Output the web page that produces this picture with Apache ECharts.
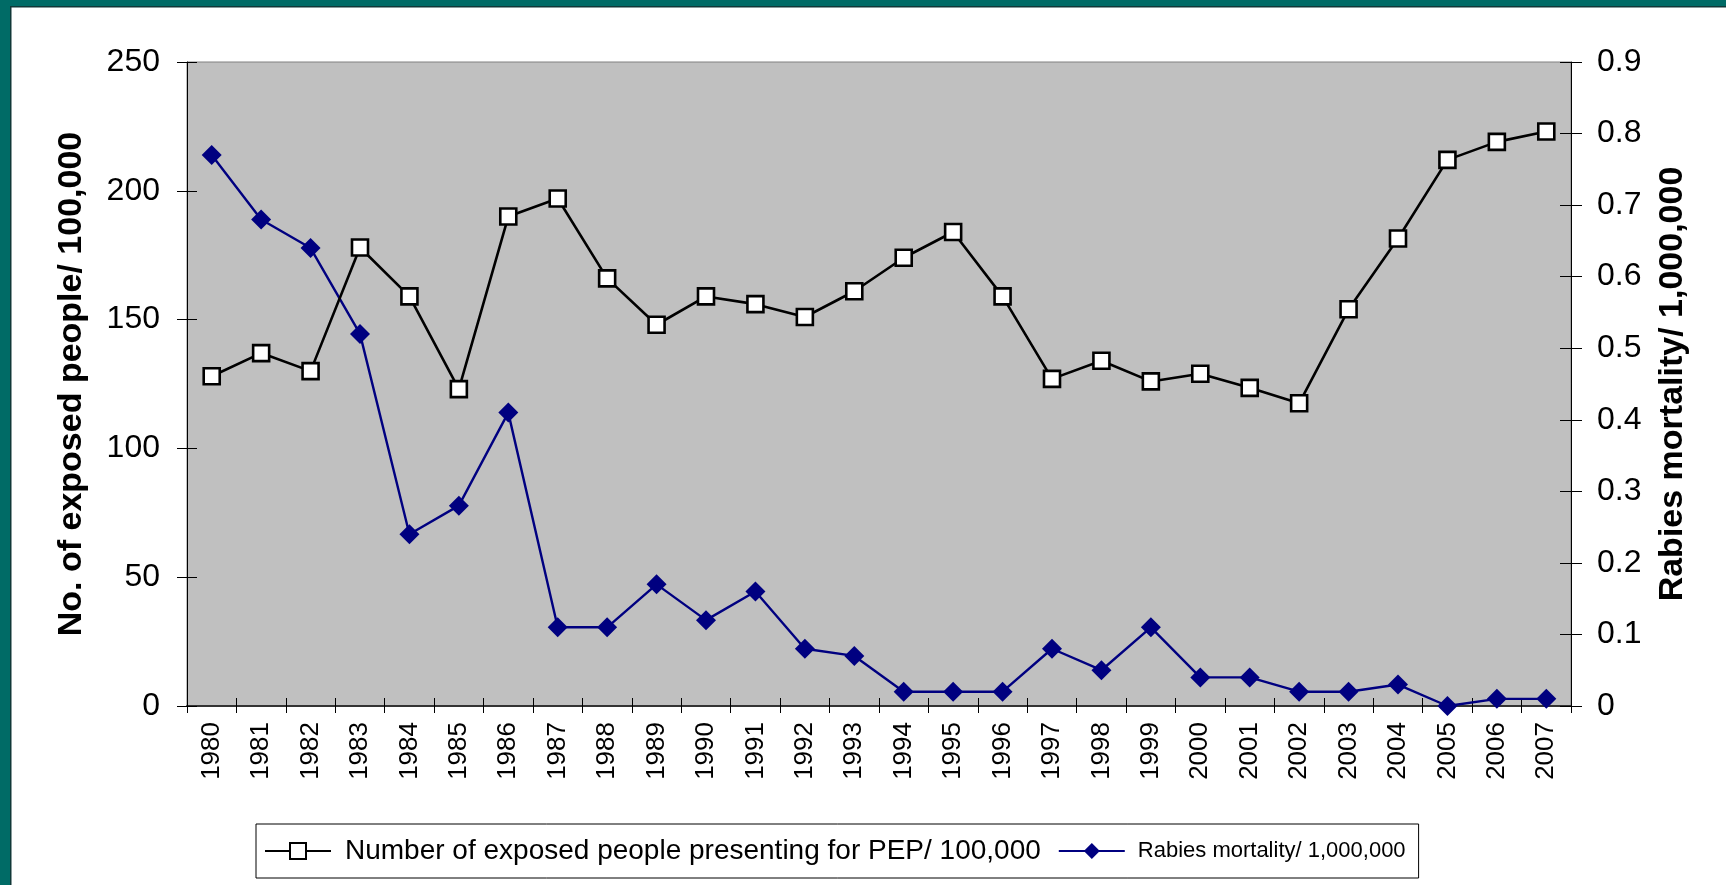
<!DOCTYPE html>
<html>
<head>
<meta charset="utf-8">
<script src="https://cdn.jsdelivr.net/npm/echarts@6/dist/echarts.min.js"></script>
<style>
  html, body { margin: 0; padding: 0; background: #fff; }
  #chart { width: 1726px; height: 885px; }
</style>
</head>
<body>
<div id="chart"></div>
<script>
// years on the x axis
var years = ['1980', '1981', '1982', '1983', '1984', '1985', '1986', '1987', '1988', '1989',
  '1990', '1991', '1992', '1993', '1994', '1995', '1996', '1997', '1998', '1999',
  '2000', '2001', '2002', '2003', '2004', '2005', '2006', '2007'];
// exposed people presenting for PEP per 100,000 (left axis)
var pepValues = [128, 137, 130, 178, 159, 123, 190, 197, 166, 148,
  159, 156, 151, 161, 174, 184, 159, 127, 134, 126,
  129, 123.5, 117.5, 154, 181.5, 212, 219, 223];
// rabies mortality per 1,000,000 (right axis)
var mortalityValues = [0.77, 0.68, 0.64, 0.52, 0.24, 0.28, 0.41, 0.11, 0.11, 0.17,
  0.12, 0.16, 0.08, 0.07, 0.02, 0.02, 0.02, 0.08, 0.05, 0.11,
  0.04, 0.04, 0.02, 0.02, 0.03, 0, 0.01, 0.01];
var seriesNames = ['Number of exposed people presenting for PEP/ 100,000', 'Rabies mortality/ 1,000,000'];
var leftName = 'No. of exposed people/ 100,000';
var rightName = 'Rabies mortality/ 1,000,000';

var font = "'Liberation Sans', Arial, sans-serif";
var teal = '#006b66';

var myChart = echarts.init(document.getElementById('chart'));

var option = {
  animation: false,
  backgroundColor: '#fff',
  textStyle: { fontFamily: font, color: '#000' },
  graphic: [
    { type: 'rect', shape: { x: 0, y: 0, width: 1726, height: 7 }, style: { fill: teal }, silent: true },
    { type: 'rect', shape: { x: 0, y: 0, width: 10, height: 885 }, style: { fill: teal }, silent: true },
    { type: 'rect', shape: { x: 10, y: 6, width: 1716, height: 1.5 }, style: { fill: '#103838' }, silent: true },
    { type: 'rect', shape: { x: 10, y: 6, width: 1.5, height: 879 }, style: { fill: '#103838' }, silent: true }
  ],
  grid: {
    left: 187,
    top: 62,
    width: 1384,
    height: 644,
    show: true,
    backgroundColor: '#c0c0c0',
    borderColor: '#808080',
    borderWidth: 1
  },
  legend: {
    left: 256,
    top: 824,
    orient: 'horizontal',
    data: seriesNames,
    itemWidth: 66,
    itemHeight: 20,
    itemGap: 17,
    padding: [13, 13, 13, 8],
    borderColor: '#000',
    borderWidth: 1,
    formatter: function (name) {
      return name === seriesNames[0] ? '{a|' + name + '}' : '{b|' + name + '}';
    },
    textStyle: {
      fontFamily: font,
      color: '#000',
      rich: {
        a: { fontSize: 28, lineHeight: 30, padding: [0, 0, 0, 9], fontFamily: font, color: '#000' },
        b: { fontSize: 22, lineHeight: 30, padding: [0, 0, 0, 8], fontFamily: font, color: '#000' }
      }
    }
  },
  xAxis: [{
    type: 'category',
    data: years,
    position: 'bottom',
    axisLine: { lineStyle: { color: '#333', width: 2 } },
    axisTick: { show: true, inside: false, length: 7, lineStyle: { color: '#000' } },
    axisLabel: { rotate: 90, fontSize: 26, margin: 16, color: '#000', interval: 0, fontFamily: font },
    splitLine: { show: false }
  }, {
    type: 'category',
    data: years,
    position: 'bottom',
    axisLine: { show: false },
    axisTick: { show: true, inside: true, length: 8, lineStyle: { color: '#000' } },
    axisLabel: { show: false },
    splitLine: { show: false }
  }],
  yAxis: [{
    type: 'value',
    position: 'left',
    min: 0,
    max: 250,
    interval: 50,
    name: leftName,
    nameLocation: 'middle',
    nameRotate: 90,
    nameGap: 98,
    nameTextStyle: { fontSize: 34, fontWeight: 'bold', color: '#000', fontFamily: font },
    axisLine: { show: true, lineStyle: { color: '#000', width: 1 } },
    axisTick: { show: true, inside: false, length: 10, lineStyle: { color: '#000' } },
    axisLabel: { fontSize: 32, margin: 27, color: '#000', fontFamily: font },
    splitLine: { show: false }
  }, {
    type: 'value',
    position: 'right',
    min: 0,
    max: 0.9,
    interval: 0.1,
    name: rightName,
    nameLocation: 'middle',
    nameRotate: 90,
    nameGap: 85,
    nameTextStyle: { fontSize: 34, fontWeight: 'bold', color: '#000', fontFamily: font },
    axisLine: { show: true, lineStyle: { color: '#000', width: 1 } },
    axisTick: { show: true, inside: false, length: 11, lineStyle: { color: '#000' } },
    axisLabel: {
      fontSize: 32, margin: 26, color: '#000', fontFamily: font,
      formatter: function (v) { return v === 0 ? '0' : v.toFixed(1); }
    },
    splitLine: { show: false }
  }, {
    type: 'value',
    position: 'left',
    min: 0,
    max: 250,
    interval: 50,
    axisLine: { show: false },
    axisTick: { show: true, inside: true, length: 10, lineStyle: { color: '#000' } },
    axisLabel: { show: false },
    splitLine: { show: false }
  }, {
    type: 'value',
    position: 'right',
    min: 0,
    max: 0.9,
    interval: 0.1,
    axisLine: { show: false },
    axisTick: { show: true, inside: true, length: 11, lineStyle: { color: '#000' } },
    axisLabel: { show: false },
    splitLine: { show: false }
  }],
  series: [{
    name: seriesNames[0],
    type: 'line',
    xAxisIndex: 0,
    yAxisIndex: 0,
    data: pepValues,
    symbol: 'rect',
    symbolSize: 16,
    showAllSymbol: true,
    lineStyle: { color: '#000', width: 2.6 },
    itemStyle: { color: '#fff', borderColor: '#000', borderWidth: 2.6 },
    z: 3
  }, {
    name: seriesNames[1],
    type: 'line',
    xAxisIndex: 0,
    yAxisIndex: 1,
    data: mortalityValues,
    symbol: 'diamond',
    symbolSize: 20,
    showAllSymbol: true,
    lineStyle: { color: '#000080', width: 2.4 },
    itemStyle: { color: '#000080', borderColor: '#000080', borderWidth: 0 },
    z: 2
  }]
};

myChart.setOption(option, true);
window.addEventListener('resize', function () {
  if (myChart) {
    myChart.resize();
  }
});
</script>
</body>
</html>
